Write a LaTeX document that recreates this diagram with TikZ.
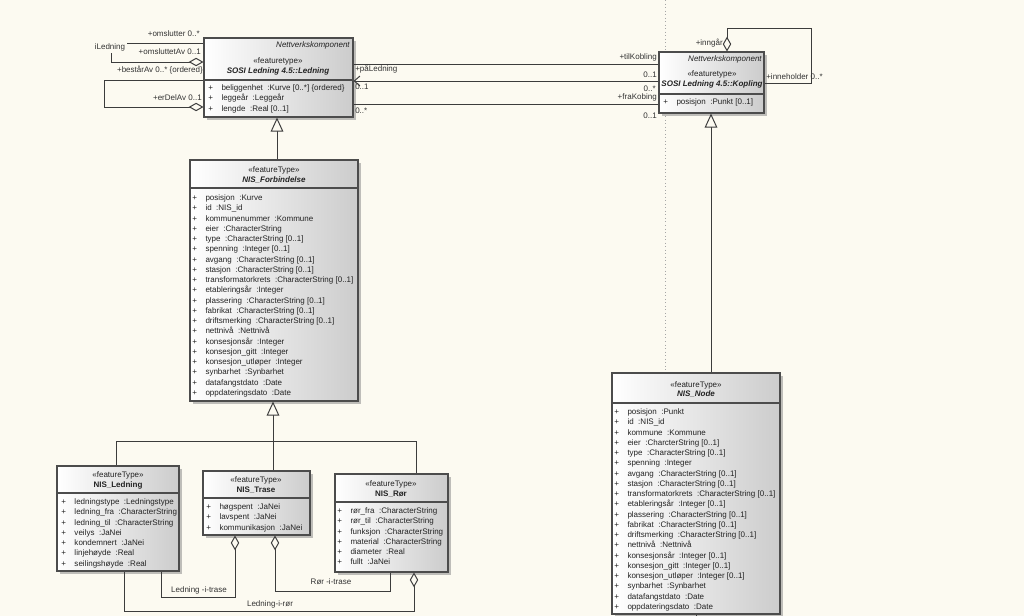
\documentclass[tikz,border=0pt]{standalone}
\usepackage{fontspec}
\setmainfont{Liberation Sans}
\usetikzlibrary{arrows.meta,shadows,fit}
\definecolor{paper}{RGB}{252,250,241}
\definecolor{ink}{RGB}{35,35,35}
\definecolor{wire}{RGB}{60,60,60}
\newcommand{\att}[2]{\makebox[9.4pt][l]{+}#1\hspace{3.2pt}:#2}
\begin{document}
\begin{tikzpicture}[x=0.025cm,y=-0.025cm,
  font=\fontsize{5.7}{7.29}\selectfont, text=ink,
  cls/.style={draw=black!70, line width=0.75pt, left color=white, right color=black!20, inner sep=0pt,
    drop shadow={shadow xshift=1.8pt, shadow yshift=-1.8pt, fill=black!45, opacity=0.55}},
  sep/.style={draw=black!70, line width=0.75pt},
  stereo/.style={inner sep=0pt},
  cname/.style={inner sep=0pt, font=\fontsize{5.7}{7.29}\selectfont\bfseries},
  aname/.style={inner sep=0pt, font=\fontsize{5.7}{7.29}\selectfont\bfseries\itshape},
  tagline/.style={inner sep=0pt, anchor=east, font=\fontsize{5.7}{7.29}\selectfont\itshape},
  attrs/.style={inner sep=0pt, anchor=north west, align=left},
  lbl/.style={inner sep=0pt, text=black!80},
  wire/.style={draw=wire, line width=0.7pt},
  agg/.style={wire, {Diamond[open,length=10.5pt,width=6pt,fill=paper]}-},
  gen/.style={wire, -{Triangle[open,length=10pt,width=9pt,fill=paper]}},
  nav/.style={wire, -{Straight Barb[length=4pt,width=7pt]}},
]
\useasboundingbox (0,0) rectangle (1024,616);
\fill[paper] (0,0) rectangle (1024,616);
\draw[black!35, dotted, line width=0.5pt] (665,0) -- (665,373);
%
% SOSI Ledning
\node (ledning) [cls, fit={(204,38) (353,117)}] {};
\draw[sep] (ledning.west |- 0,80) -- (ledning.east |- 0,80);
\node (ledningtag) at (350,45) [tagline] {Nettverkskomponent};
\node (ledningster) at (278,61) [stereo] {«featuretype»};
\node (ledningname) at (278,71) [aname] {SOSI Ledning 4.5::Ledning};
\node (ledningattr) at (208,84.5) [attrs] {\att{beliggenhet}{Kurve [0..*] \{ordered\}}\\
  \att{leggeår}{Leggeår}\\
  \att{lengde}{Real [0..1]}};
%
% SOSI Kopling
\node (kopling) [cls, fit={(659,52) (764,113)}] {};
\draw[sep] (kopling.west |- 0,94) -- (kopling.east |- 0,94);
\node (koplingtag) at (762,59) [tagline] {Nettverkskomponent};
\node (koplingster) at (712,74) [stereo] {«featuretype»};
\node (koplingname) at (712,84) [aname] {SOSI Ledning 4.5::Kopling};
\node (koplingattr) at (663,98.5) [attrs] {\att{posisjon}{Punkt [0..1]}};
%
% NIS_Forbindelse
\node (forbindelse) [cls, fit={(190,160) (358,401)}] {};
\draw[sep] (forbindelse.west |- 0,188) -- (forbindelse.east |- 0,188);
\node (forbster) at (274,170) [stereo] {«featureType»};
\node (forbname) at (274,180) [aname] {NIS\_Forbindelse};
\node (forbattr) at (192,194.5) [attrs] {\att{posisjon}{Kurve}\\
  \att{id}{NIS\_id}\\
  \att{kommunenummer}{Kommune}\\
  \att{eier}{CharacterString}\\
  \att{type}{CharacterString [0..1]}\\
  \att{spenning}{Integer [0..1]}\\
  \att{avgang}{CharacterString [0..1]}\\
  \att{stasjon}{CharacterString [0..1]}\\
  \att{transformatorkrets}{CharacterString [0..1]}\\
  \att{etableringsår}{Integer}\\
  \att{plassering}{CharacterString [0..1]}\\
  \att{fabrikat}{CharacterString [0..1]}\\
  \att{driftsmerking}{CharacterString [0..1]}\\
  \att{nettnivå}{Nettnivå}\\
  \att{konsesjonsår}{Integer}\\
  \att{konsesjon\_gitt}{Integer}\\
  \att{konsesjon\_utløper}{Integer}\\
  \att{synbarhet}{Synbarhet}\\
  \att{datafangstdato}{Date}\\
  \att{oppdateringsdato}{Date}};
%
% NIS_Ledning
\node (nisledning) [cls, fit={(57,466) (179,571)}] {};
\draw[sep] (nisledning.west |- 0,493) -- (nisledning.east |- 0,493);
\node (nisledningster) at (118,475) [stereo] {«featureType»};
\node (nisledningname) at (118,485) [cname] {NIS\_Ledning};
\node (nisledningattr) at (61,498.5) [attrs] {\att{ledningstype}{Ledningstype}\\
  \att{ledning\_fra}{CharacterString}\\
  \att{ledning\_til}{CharacterString}\\
  \att{veilys}{JaNei}\\
  \att{kondemnert}{JaNei}\\
  \att{linjehøyde}{Real}\\
  \att{seilingshøyde}{Real}};
%
% NIS_Trase
\node (nistrase) [cls, fit={(203,471) (310,535)}] {};
\draw[sep] (nistrase.west |- 0,498) -- (nistrase.east |- 0,498);
\node (nistrasester) at (256,480) [stereo] {«featureType»};
\node (nistrasename) at (256,490) [cname] {NIS\_Trase};
\node (nistraseattr) at (206,503.5) [attrs] {\att{høgspent}{JaNei}\\
  \att{lavspent}{JaNei}\\
  \att{kommunikasjon}{JaNei}};
%
% NIS_Rør
\node (nisror) [cls, fit={(335,474) (448,572)}] {};
\draw[sep] (nisror.west |- 0,502) -- (nisror.east |- 0,502);
\node (nisrorster) at (391,484) [stereo] {«featureType»};
\node (nisrorname) at (391,494) [cname] {NIS\_Rør};
\node (nisrorattr) at (337,507.5) [attrs] {\att{rør\_fra}{CharacterString}\\
  \att{rør\_til}{CharacterString}\\
  \att{funksjon}{CharacterString}\\
  \att{material}{CharacterString}\\
  \att{diameter}{Real}\\
  \att{fullt}{JaNei}};
%
% NIS_Node
\node (nisnode) [cls, fit={(612,373) (780,614)}] {};
\draw[sep] (nisnode.west |- 0,403) -- (nisnode.east |- 0,403);
\node (nisnodester) at (696,385) [stereo] {«featureType»};
\node (nisnodename) at (696,394) [aname] {NIS\_Node};
\node (nisnodeattr) at (614,408.5) [attrs] {\att{posisjon}{Punkt}\\
  \att{id}{NIS\_id}\\
  \att{kommune}{Kommune}\\
  \att{eier}{CharcterString [0..1]}\\
  \att{type}{CharacterString [0..1]}\\
  \att{spenning}{Integer}\\
  \att{avgang}{CharacterString [0..1]}\\
  \att{stasjon}{CharacterString [0..1]}\\
  \att{transformatorkrets}{CharacterString [0..1]}\\
  \att{etableringsår}{Integer [0..1]}\\
  \att{plassering}{CharacterString [0..1]}\\
  \att{fabrikat}{CharacterString [0..1]}\\
  \att{driftsmerking}{CharacterString [0..1]}\\
  \att{nettnivå}{Nettnivå}\\
  \att{konsesjonsår}{Integer [0..1]}\\
  \att{konsesjon\_gitt}{Integer [0..1]}\\
  \att{konsesjon\_utløper}{Integer [0..1]}\\
  \att{synbarhet}{Synbarhet}\\
  \att{datafangstdato}{Date}\\
  \att{oppdateringsdato}{Date}};
\coordinate (nodeout) at (696,616);
\draw[wire] (nisnode.south -| nodeout) -- (nodeout);
%
% Ledning <-> Kopling
\draw[wire] (ledning.east |- 0,64) -- (kopling.west |- 0,64);
\draw[nav] (kopling.west |- 0,81) -- (ledning.east |- 0,81);
\draw[wire] (ledning.east |- 0,104) -- (kopling.west |- 0,104);
\node (tilkobling) at (657,57) [lbl, anchor=east] {+tilKobling};
\node (tilkoblingm) at (657,75) [lbl, anchor=east] {0..1};
\node (paledning) at (355,69) [lbl, anchor=west] {+påLedning};
\node (paledningm) at (355,87) [lbl, anchor=west] {0..1};
\node (paledningk) at (656,89) [lbl, anchor=east] {0..*};
\node (frakobing) at (657,97) [lbl, anchor=east] {+fraKobing};
\node (frakobingm) at (657,116) [lbl, anchor=east] {0..1};
\node (frakobingl) at (355,111) [lbl, anchor=west] {0..*};
%
% Ledning self associations
\draw[agg] (ledning.west |- 0,62) -- (111,62) -- (111,43) -- (ledning.west |- 0,43);
\node (iledning) at (110,47) [lbl, fill=paper, inner sep=1.5pt] {iLedning};
\node (omslutter) at (200,34) [lbl, anchor=east] {+omslutter 0..*};
\node (omsluttetav) at (201,52) [lbl, anchor=east] {+omsluttetAv 0..1};
\draw[agg] (ledning.west |- 0,107) -- (104,107) -- (104,80) -- (ledning.west |- 0,80);
\node (bestar) at (203,70) [lbl, anchor=east] {+bestårAv 0..* \{ordered\}};
\node (erdelav) at (202,98) [lbl, anchor=east] {+erDelAv 0..1};
%
% Kopling self association
\draw[agg] (kopling.north -| 727,0) -- (727,28) -- (811,28) -- (811,83) -- (kopling.east |- 0,83);
\node (inngar) at (723,43) [lbl, anchor=east] {+inngår};
\node (inneholder) at (766,77) [lbl, anchor=west] {+inneholder 0..*};
%
% generalisations
\draw[gen] (forbindelse.north -| 277,0) -- (ledning.south -| 277,0);
\draw[gen] (nisnode.north -| 711,0) -- (kopling.south -| 711,0);
\draw[gen] (nistrase.north -| 273,0) -- (forbindelse.south -| 273,0);
\draw[wire] (nisledning.north -| 116,0) |- (416,441) -- (nisror.north -| 416,0);
%
% trase / rør
\draw[agg] (nistrase.south -| 235,0) -- (235,597) -| (nisledning.south -| 161,0);
\draw[agg] (nistrase.south -| 275,0) -- (275,591) -| (nisror.south -| 390,0);
\draw[agg] (nisror.south -| 414,0) -- (414,611) -| (nisledning.south -| 124,0);
\node (ledningitrase) at (199,590) [lbl] {Ledning -i-trase};
\node (roritrase) at (331,582) [lbl] {Rør -i-trase};
\node (ledningiror) at (270,604) [lbl] {Ledning-i-rør};
\end{tikzpicture}
\end{document}
